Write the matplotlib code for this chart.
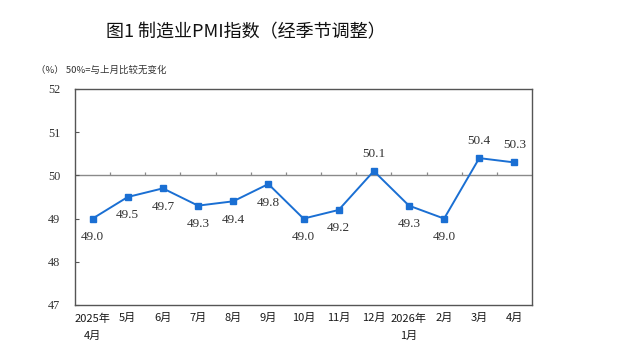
import matplotlib
matplotlib.use("Agg")
import matplotlib.pyplot as plt
import numpy as np

months = ["2025年\n4月", "5月", "6月", "7月", "8月", "9月", "10月", "11月",
          "12月", "2026年\n1月", "2月", "3月", "4月"]
pmi = [49.0, 49.5, 49.7, 49.3, 49.4, 49.8, 49.0, 49.2, 50.1, 49.3, 49.0, 50.4, 50.3]
label_above = [False, False, False, False, False, False, False, False, True, False, False, True, True]
yticks = [47, 48, 49, 50, 51, 52]

cjk = ["Noto Sans CJK SC", "DejaVu Sans"]
serif = ["Liberation Serif", "DejaVu Serif"]

fig = plt.figure(figsize=(6.22, 3.63), dpi=100)
ax = fig.add_axes([75/622, 1-305/363, (532-75)/622, (305-89)/363])

x = np.arange(len(pmi))
ax.plot(x, pmi, color="#1a6fd3", lw=1.4, marker="s", markersize=4.5, zorder=3)

ax.axhline(50, color="#8a8a8a", lw=1.0, zorder=1)
bounds = x[:-1] + 0.5
ax.vlines(bounds, 50, 50.09, color="#8a8a8a", lw=0.9, zorder=1)

for xi, v, up in zip(x, pmi, label_above):
    if up:
        ax.annotate(f"{v:.1f}", (xi, v), xytext=(0, 8), textcoords="offset points",
                    ha="center", va="bottom", fontsize=9.5, family=serif, color="#333333")
    else:
        ax.annotate(f"{v:.1f}", (xi, v), xytext=(0, -9), textcoords="offset points",
                    ha="center", va="top", fontsize=9.5, family=serif, color="#333333")

ax.set_xlim(-0.5, len(pmi) - 0.5)
ax.set_ylim(47, 52)
ax.set_yticks(yticks)
ax.set_yticklabels([str(t) for t in yticks], family=serif, fontsize=8.8, color="#333333")
ax.tick_params(axis="y", direction="in", length=3, color="#555555", pad=19.5)
for lab in ax.get_yticklabels():
    lab.set_horizontalalignment("left")
ax.set_xticks(x)
ax.set_xticklabels(months, family=cjk, fontsize=8, color="#1a1a1a", linespacing=1.9)
ax.tick_params(axis="x", length=0, pad=6)
for lab in ax.get_xticklabels():
    lab.set_verticalalignment("top")

for s in ax.spines.values():
    s.set_color("#555555")
    s.set_linewidth(1.0)

fig.text(246/622, 1-32/363, "图1 制造业PMI指数（经季节调整）", ha="center", va="center",
         family=cjk, fontsize=13, weight="medium", color="#111111")
fig.text(36/622, 1-70/363, "（%） 50%=与上月比较无变化", ha="left", va="center",
         family=cjk, fontsize=6.8, color="#333333")

fig.savefig("out.png", dpi=100)
